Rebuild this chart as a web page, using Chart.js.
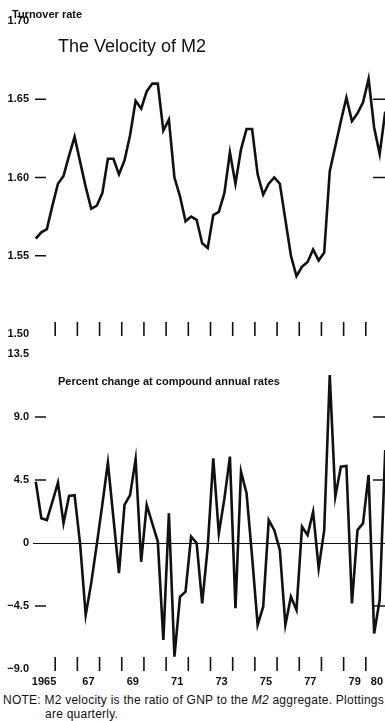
<!DOCTYPE html>
<html>
<head>
<meta charset="utf-8">
<script src="https://cdn.jsdelivr.net/npm/chart.js@4.4.1/dist/chart.umd.min.js"></script>
<style>
  html, body { margin:0; padding:0; background:#fff; width:385px; height:721px; overflow:hidden; }
  body { position:relative; font-family:"Liberation Sans", Arial, sans-serif; color:#111; }
  canvas { position:absolute; left:0; }
  #c1 { top:0; }
  #c2 { top:345px; }
  .t { position:absolute; white-space:nowrap; line-height:1; }
  #title { left:58px; top:37px; font-size:18px; }
  #ylab1 { left:12px; top:9px; font-size:11px; font-weight:bold; }
  #ylab2 { left:58px; top:376px; font-size:11px; font-weight:bold; }
  #note1 { left:3px; top:694px; font-size:12px; }
  #note2 { left:45px; top:708px; font-size:12px; }
</style>
</head>
<body>
<canvas id="c1" width="388" height="345"></canvas>
<canvas id="c2" width="388" height="345"></canvas>
<div class="t" id="ylab1">Turnover rate</div>
<div class="t" id="title">The Velocity of M2</div>
<div class="t" id="ylab2">Percent change at compound annual rates</div>
<div class="t" id="note1">NOTE: M2 velocity is the ratio of GNP to the <i>M2</i> aggregate. Plottings</div>
<div class="t" id="note2">are quarterly.</div>
<script>
// ---- categories ----
const years = [1965,1966,1967,1968,1969,1970,1971,1972,1973,1974,1975,1976,1977,1978,1979,1980];
const quarterNames = ["Q1","Q2","Q3","Q4"];

// ---- series values (quarterly, 1965 Q1 - 1980 Q4) ----
const velocity = [
  1.561,1.565,1.567,1.582, 1.596,1.601,1.614,1.626, 1.610,1.594,1.580,1.582, 1.590,1.612,1.612,1.602,
  1.611,1.627,1.649,1.644, 1.655,1.660,1.660,1.630, 1.637,1.600,1.588,1.572, 1.575,1.573,1.558,1.555,
  1.576,1.578,1.590,1.616, 1.596,1.618,1.631,1.631, 1.602,1.589,1.596,1.600, 1.596,1.573,1.550,1.537,
  1.543,1.546,1.554,1.547, 1.552,1.604,1.620,1.636, 1.651,1.636,1.641,1.648, 1.663,1.632,1.615,1.642
];
const pctChange = [
  4.38,1.77,1.64,2.95, 4.31,1.41,3.36,3.42, -0.10,-5.15,-2.85,-0.10, 2.76,5.74,1.77,-2.16,
  2.72,3.42,5.98,-1.34, 2.72,1.41,0.10,-6.93, 2.13,-8.12,-3.84,-3.47, 0.45,0.00,-4.31,-0.27,
  6.05,0.69,3.15,6.17, -4.66,5.10,3.55,-0.98, -5.85,-4.55,1.64,0.92, -0.50,-5.85,-3.84,-4.78,
  1.16,0.57,2.23,-1.81, 0.92,12.00,3.31,5.45, 5.50,-4.31,0.92,1.41, 4.86,-6.46,-4.07,6.64
];

// ---- tick values / labels ----
const topYTicks = [1.50, 1.55, 1.60, 1.65, 1.70];
const topDashLeft = [1.55, 1.60, 1.65];
const topDashRight = [1.60, 1.65];
const botYTicks = [-9, -4.5, 0, 4.5, 9, 13.5];
const botYLabels = ["\u22129.0", "\u22124.5", "0", "4.5", "9.0", "13.5"];
const botDashLeft = [-4.5, 4.5, 9];
const botDashRight = [-4.5, 4.5, 9];
const yearMarks = [1966,1967,1968,1969,1970,1971,1972,1973,1974,1975,1976,1977,1978,1979,1980];
const xLabelYears = [1965,1967,1969,1971,1973,1975,1977,1979,1980];
const xLabels = ["1965","67","69","71","73","75","77","79","80"];

// quarterly points, placed at the middle of each quarter
const quarterX = [];
years.forEach(y => quarterNames.forEach((q, k) => quarterX.push(y + (k + 0.5) / 4)));
const velPts = velocity.map((v, i) => ({x: quarterX[i], y: v}));
const pctPts = pctChange.map((v, i) => ({x: quarterX[i], y: v}));

const FONT = '"Liberation Sans", Arial, sans-serif';
const INK = '#111';

const marks = {
  id: 'marks',
  afterDatasetsDraw(chart, args, o) {
    const {ctx, chartArea: a, scales: {x, y}} = chart;
    ctx.save();
    ctx.strokeStyle = INK;
    ctx.lineWidth = 1.5;
    const seg = (x1, y1, x2, y2) => { ctx.beginPath(); ctx.moveTo(x1, y1); ctx.lineTo(x2, y2); ctx.stroke(); };
    o.left.forEach(v => { const py = y.getPixelForValue(v); seg(a.left + 2, py, a.left + 13, py); });
    o.right.forEach(v => { const py = y.getPixelForValue(v); seg(a.right - 15, py, a.right - 3, py); });
    ctx.lineWidth = 1.6;
    o.years.forEach(v => { const px = x.getPixelForValue(v); seg(px, a.bottom - 12, px, a.bottom + 2); });
    ctx.restore();
  }
};

const lineDataset = pts => ({
  data: pts, borderColor: INK, borderWidth: 2.6, pointRadius: 0, tension: 0,
  borderJoinStyle: 'miter', fill: false
});

const xBase = {
  type: 'linear', min: 1965, max: 1981,
  grid: {display: false, drawTicks: false}, border: {display: false}
};

const yFont = {family: FONT, size: 11, weight: 'bold', lineHeight: 0.8};

new Chart(document.getElementById('c1'), {
  type: 'line',
  data: {datasets: [lineDataset(velPts)]},
  options: {
    responsive: false, animation: false, devicePixelRatio: 1,
    layout: {padding: {top: 21, bottom: 11, left: 0, right: 0}},
    plugins: {legend: {display: false}, tooltip: {enabled: false},
      marks: {left: topDashLeft, right: topDashRight, years: yearMarks}},
    scales: {
      x: Object.assign({}, xBase, {display: false}),
      y: {
        min: 1.50, max: 1.70,
        afterBuildTicks: s => { s.ticks = topYTicks.map(v => ({value: v})); },
        afterFit: s => { s.width = 33; },
        ticks: {callback: v => Number(v).toFixed(2), font: yFont, color: INK, padding: 4},
        grid: {display: false, drawTicks: false}, border: {display: false}
      }
    }
  },
  plugins: [marks]
});

new Chart(document.getElementById('c2'), {
  type: 'line',
  data: {datasets: [lineDataset(pctPts)]},
  options: {
    responsive: false, animation: false, devicePixelRatio: 1,
    layout: {padding: {top: 9, bottom: 0, left: 0, right: 0}},
    plugins: {legend: {display: false}, tooltip: {enabled: false},
      marks: {left: botDashLeft, right: botDashRight, years: yearMarks}},
    scales: {
      x: Object.assign({}, xBase, {
        afterBuildTicks: s => { s.ticks = xLabelYears.map(v => ({value: v + 0.5})); },
        afterFit: s => { s.height = 21; },
        ticks: {
          autoSkip: false, maxRotation: 0, padding: 4, color: INK,
          font: {family: FONT, size: 11, weight: 'bold', lineHeight: 1.6},
          callback: (v, i) => xLabels[i]
        }
      }),
      y: {
        min: -9, max: 13.5,
        afterBuildTicks: s => { s.ticks = botYTicks.map(v => ({value: v})); },
        afterFit: s => { s.width = 33; },
        ticks: {callback: (v, i) => botYLabels[i], font: yFont, color: INK, padding: 4},
        grid: {
          display: true, drawTicks: false, drawOnChartArea: true, lineWidth: 1,
          color: c => (c.tick && c.tick.value === 0) ? INK : 'rgba(0,0,0,0)'
        },
        border: {display: false}
      }
    }
  },
  plugins: [marks]
});

// fit the note's letter spacing to its printed width
(function () {
  const n1 = document.getElementById('note1'), n2 = document.getElementById('note2');
  const target = 381;
  const w = n1.getBoundingClientRect().width;
  const chars = n1.textContent.length;
  const ls = (target - w) / chars;
  n1.style.letterSpacing = ls + 'px';
  n2.style.letterSpacing = ls + 'px';
})();
</script>
</body>
</html>
